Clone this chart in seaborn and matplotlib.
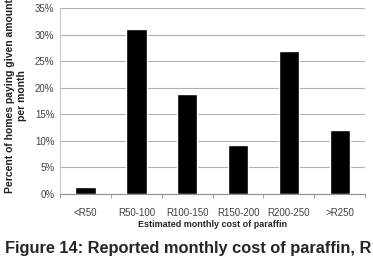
import numpy as np
import seaborn as sns
import matplotlib.pyplot as plt

# data
categories = ['<R50', 'R50-100', 'R100-150', 'R150-200', 'R200-250', '>R250']
share = [1.3, 31.0, 18.8, 9.3, 26.9, 12.0]
yticks = [0, 5, 10, 15, 20, 25, 30, 35]

sns.set_style('white')
plt.rcParams['font.family'] = ['Liberation Sans Narrow', 'Liberation Sans', 'DejaVu Sans']

fig = plt.figure(figsize=(3.73, 2.61), dpi=100)
ax = fig.add_axes([0.161, 0.257, 0.818, 0.712])

sns.barplot(x=categories, y=share, color='black', saturation=1, width=0.4, ax=ax)

ax.set_ylim(0, 35)
ax.set_yticks(yticks)
ax.set_yticklabels([f'{t}%' for t in yticks], fontsize=7, color='#404040')
ax.yaxis.grid(True, color='#b0b0b0', linewidth=0.8)
ax.set_axisbelow(True)
ax.tick_params(axis='x', length=0, labelsize=7, labelcolor='#404040', pad=10)
ax.tick_params(axis='y', length=0, pad=4)
ax.set_xticks(np.arange(-0.5, len(categories)), minor=True)
ax.tick_params(axis='x', which='minor', length=3, color='#909090', bottom=True)
ax.set_xlim(-0.5, len(categories) - 0.5)

for s in ['top', 'right']:
    ax.spines[s].set_visible(False)
ax.spines['left'].set_color('#c8c8c8')
ax.spines['bottom'].set_color('#909090')

ax.set_xlabel('Estimated monthly cost of paraffin', fontsize=6.5, fontweight='bold', labelpad=1.5)
ax.set_ylabel('')
fig.text(0.043, 1 - 96 / 261, 'Percent of homes paying given amount\nper month',
         rotation=90, ha='center', va='center', multialignment='center',
         fontsize=7.5, fontweight='bold', color='#202020')

fig.text(0.013, 1 - 248 / 261, 'Figure 14: Reported monthly cost of paraffin, R',
         family=['Liberation Sans', 'DejaVu Sans'],
         ha='left', va='center', fontsize=11.8, fontweight='bold')

fig.savefig('out.png', dpi=100)
